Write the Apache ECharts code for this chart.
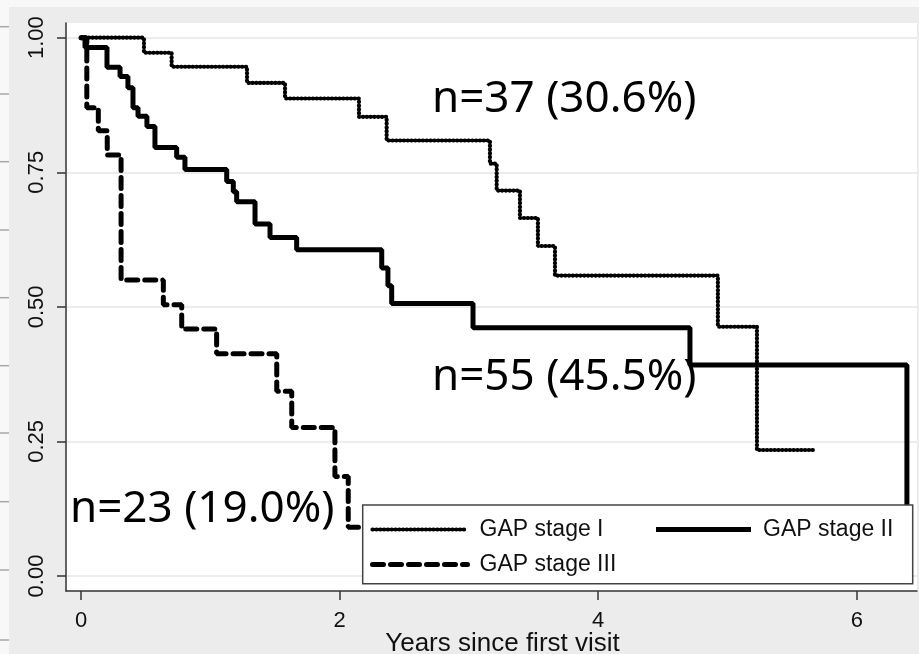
<!DOCTYPE html>
<html>
<head>
<meta charset="utf-8">
<script src="https://cdn.jsdelivr.net/npm/echarts@6/dist/echarts.min.js"></script>
<style>
  html, body { margin: 0; padding: 0; background: #ececec; }
  #chart { width: 919px; height: 654px; }
</style>
</head>
<body>
<div id="chart"></div>
<script>
// Kaplan–Meier survival estimates by GAP stage: [years since first visit, survival]
const stageI = [[0, 1], [0.487, 0.972], [0.701, 0.946], [1.284, 0.916], [1.578, 0.887],
  [2.150, 0.853], [2.364, 0.809], [3.163, 0.766], [3.215, 0.716], [3.395, 0.665],
  [3.534, 0.613], [3.666, 0.558], [4.926, 0.463], [5.228, 0.234], [5.677, 0.234]];
const stageII = [[0, 1], [0.031, 0.982], [0.201, 0.945], [0.302, 0.928], [0.363, 0.907],
  [0.402, 0.870], [0.441, 0.854], [0.510, 0.835], [0.572, 0.796], [0.740, 0.778],
  [0.804, 0.755], [1.127, 0.733], [1.178, 0.714], [1.204, 0.695], [1.346, 0.654],
  [1.462, 0.629], [1.668, 0.606], [2.326, 0.572], [2.374, 0.539], [2.403, 0.506],
  [3.032, 0.461], [4.710, 0.392], [6.388, 0]];
const stageIII = [[0, 1], [0.045, 0.870], [0.134, 0.827], [0.203, 0.782], [0.310, 0.550],
  [0.637, 0.504], [0.779, 0.459], [1.049, 0.413], [1.514, 0.343], [1.630, 0.276],
  [1.964, 0.185], [2.067, 0.0905], [2.500, 0.0905]];

const seriesNames = ['GAP stage I', 'GAP stage II', 'GAP stage III'];
const groupLabels = ['n=37 (30.6%)', 'n=55 (45.5%)', 'n=23 (19.0%)'];
const xTicks = [0, 2, 4, 6];
const yTicks = [0, 0.25, 0.5, 0.75, 1];
const xTitle = 'Years since first visit';

const ink = '#111';
const axisColor = '#333';

const chart = echarts.init(document.getElementById('chart'), null, { renderer: 'canvas' });

// small grey marks along the left margin strip
const marginMarks = [26.7, 94, 161.7, 230, 297.7, 365.7, 433, 501.7, 570, 640].map(y => ({
  type: 'line', z: 1,
  shape: { x1: 0, y1: y, x2: 9, y2: y },
  style: { stroke: '#a8a8a8', lineWidth: 1.5 }
}));

const labelFont = '"Noto Sans", "Open Sans", sans-serif';

chart.setOption({
  animation: false,
  backgroundColor: '#ececec',
  textStyle: { fontFamily: '"Liberation Sans", Arial, sans-serif' },
  grid: {
    left: 66, right: 2, top: 23, bottom: 63,
    containLabel: false, outerBoundsMode: 'none',
    show: true, backgroundColor: '#ffffff', borderWidth: 0
  },
  xAxis: {
    type: 'value', min: -0.116, max: 6.466,
    name: xTitle, nameLocation: 'middle', nameGap: 40, nameMoveOverlap: false,
    nameTextStyle: { fontSize: 26, color: ink, padding: [0, 0, 0, 22] },
    axisLine: { show: true, onZero: false, lineStyle: { color: axisColor, width: 1.5 } },
    axisTick: { show: true, length: 9, customValues: xTicks, lineStyle: { color: axisColor, width: 1.5 } },
    axisLabel: { customValues: xTicks, fontSize: 22, color: ink, margin: 19 },
    splitLine: { show: false }
  },
  yAxis: {
    type: 'value', min: -0.0279, max: 1.0273,
    axisLine: { show: true, onZero: false, lineStyle: { color: axisColor, width: 1.5 } },
    axisTick: { show: true, length: 9, customValues: yTicks, lineStyle: { color: axisColor, width: 1.5 } },
    axisLabel: {
      customValues: yTicks, rotate: 90, fontSize: 22, color: ink, margin: 18,
      formatter: v => v.toFixed(2)
    },
    splitLine: { show: true, lineStyle: { color: '#e6e6e6', width: 1.5 } }
  },
  legend: {
    left: 362.7, top: 505, width: 545,
    orient: 'horizontal',
    padding: [13, 9.7, 7.7, 7.3],
    itemGap: 12, itemWidth: 95, itemHeight: 14,
    backgroundColor: '#ffffff', borderColor: '#444', borderWidth: 1.5, borderRadius: 0,
    selectedMode: false,
    itemStyle: { opacity: 0 },
    lineStyle: { width: 'inherit' },
    textStyle: { fontSize: 23, color: ink, lineHeight: 22, padding: [0, 0, 0, 7] },
    data: [
      { name: seriesNames[0], textStyle: { width: 162 } },
      { name: seriesNames[1], textStyle: { width: 140 } },
      { name: seriesNames[2], textStyle: { width: 162 } }
    ]
  },
  series: [
    {
      name: seriesNames[0], type: 'line', step: 'end', data: stageI,
      symbol: 'none', showSymbol: false, silent: true,
      lineStyle: { color: '#000', width: 4.2, type: [0.4, 3.4], cap: 'round' }
    },
    {
      name: seriesNames[1], type: 'line', step: 'end', data: stageII,
      symbol: 'none', showSymbol: false, silent: true,
      lineStyle: { color: '#000', width: 5, type: 'solid' }
    },
    {
      name: seriesNames[2], type: 'line', step: 'end', data: stageIII,
      symbol: 'none', showSymbol: false, silent: true,
      lineStyle: { color: '#000', width: 5, type: [11, 7], cap: 'round' }
    }
  ],
  graphic: [
    { type: 'rect', z: 0, shape: { x: 0, y: 0, width: 919, height: 7 }, style: { fill: '#f8f8f8' } },
    { type: 'rect', z: 0, shape: { x: 0, y: 0, width: 9, height: 654 }, style: { fill: '#f8f8f8' } },
    ...marginMarks,
    {
      type: 'text', z: 100, x: 432, y: 99,
      style: { text: groupLabels[0], fontFamily: labelFont, fontSize: 44, fill: '#000', verticalAlign: 'middle' }
    },
    {
      type: 'text', z: 100, x: 432, y: 377,
      style: { text: groupLabels[1], fontFamily: labelFont, fontSize: 44, fill: '#000', verticalAlign: 'middle' }
    },
    {
      type: 'text', z: 100, x: 70, y: 509,
      style: { text: groupLabels[2], fontFamily: labelFont, fontSize: 44, fill: '#000', verticalAlign: 'middle' }
    }
  ]
});
</script>
</body>
</html>
